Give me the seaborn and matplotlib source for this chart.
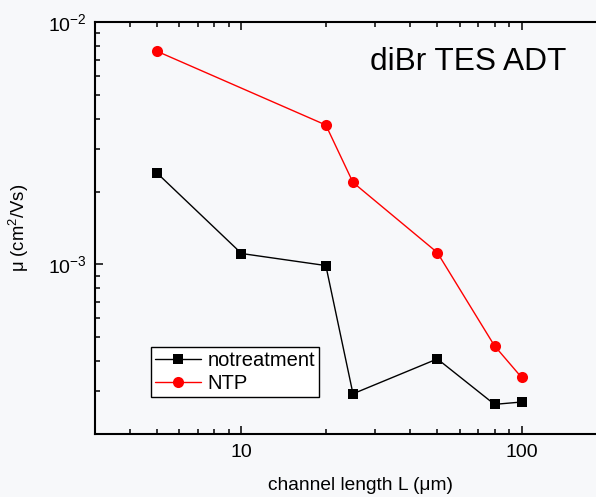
import matplotlib
matplotlib.use("Agg")
import matplotlib.pyplot as plt
import seaborn as sns
import pandas as pd
from matplotlib.ticker import LogLocator, NullFormatter
from matplotlib.lines import Line2D

# ---- data ----
channel_length = [5, 10, 20, 25, 50, 80, 100]
mu_notreatment = [2.38e-3, 1.11e-3, 9.9e-4, 2.93e-4, 4.08e-4, 2.65e-4, 2.71e-4]
ntp_length = [5, 20, 25, 50, 80, 100]
mu_ntp = [7.57e-3, 3.76e-3, 2.18e-3, 1.12e-3, 4.62e-4, 3.42e-4]
series_names = ["notreatment", "NTP"]
title_text = "diBr TES ADT"

sns.set_theme(style="white")
plt.rcParams['font.family'] = ['Liberation Sans', 'DejaVu Sans']
plt.rcParams['mathtext.default'] = 'regular'
plt.rcParams['text.color'] = 'black'
plt.rcParams['axes.labelcolor'] = 'black'

bg = '#f7f8fa'
fig = plt.figure(figsize=(5.96, 4.97), dpi=100, facecolor=bg)
ax = fig.add_axes([95/596, 63/497, 511/596, 412/497])
ax.set_facecolor(bg)

df1 = pd.DataFrame({"L": channel_length, "mu": mu_notreatment})
df2 = pd.DataFrame({"L": ntp_length, "mu": mu_ntp})

sns.lineplot(data=df1, x="L", y="mu", ax=ax, color="black", lw=1.0,
             marker="s", markersize=7.5, markeredgewidth=0, estimator=None, sort=False)
sns.lineplot(data=df2, x="L", y="mu", ax=ax, color="#ff0000", lw=1.0,
             marker="o", markersize=8, markeredgewidth=0, estimator=None, sort=False)

ax.set_xscale("log")
ax.set_yscale("log")
ax.set_xlim(3, 200)
ax.set_ylim(2e-4, 1e-2)

ax.xaxis.set_major_locator(LogLocator(base=10, numticks=10))
ax.xaxis.set_minor_locator(LogLocator(base=10, subs=range(2, 10), numticks=20))
ax.xaxis.set_minor_formatter(NullFormatter())
ax.yaxis.set_major_locator(LogLocator(base=10, numticks=10))
ax.yaxis.set_minor_locator(LogLocator(base=10, subs=range(2, 10), numticks=20))
ax.yaxis.set_minor_formatter(NullFormatter())
ax.xaxis.set_major_formatter(matplotlib.ticker.FuncFormatter(lambda v, p: f"{int(round(v))}"))

for s in ax.spines.values():
    s.set_visible(True)
    s.set_color("black")
    s.set_linewidth(1.5)

ax.tick_params(which="major", direction="in", length=6, width=1.1, colors="black",
               labelsize=14, top=True, right=True, bottom=True, left=True)
ax.tick_params(which="minor", direction="in", length=3.5, width=1.1, colors="black",
               top=True, right=True, bottom=True, left=True)
ax.tick_params(axis="x", which="major", pad=7)
ax.tick_params(axis="y", which="major", pad=6)

ax.set_xlabel("channel length L (\u03bcm)", fontsize=13.8, color="black")
ax.set_ylabel("\u03bc (cm$^2$/Vs)", fontsize=13.3, color="black")
ax.xaxis.set_label_coords((360 - 95) / 511, -0.105)
ax.yaxis.set_label_coords(-0.125, 0.5)

ax.text((370 - 95) / 511, (434 - 62) / 412, title_text, transform=ax.transAxes,
        fontsize=22.8, color="black", ha="left", va="center")

handles = [
    Line2D([], [], color="black", lw=1.0, marker="s", markersize=7.5, markeredgewidth=0),
    Line2D([], [], color="#ff0000", lw=1.0, marker="o", markersize=8, markeredgewidth=0),
]
leg = ax.legend(handles, series_names, loc="lower left",
                bbox_to_anchor=((151 - 95) / 511, (434 - 397) / 412),
                borderaxespad=0, fontsize=14.5, frameon=True, fancybox=False,
                edgecolor="black", facecolor="white", framealpha=1,
                handlelength=2.3, handletextpad=0.3, labelspacing=0.2,
                borderpad=0.2, labelcolor="black")
leg.get_frame().set_linewidth(1.0)

fig.savefig("out.png", dpi=100, facecolor=bg)
